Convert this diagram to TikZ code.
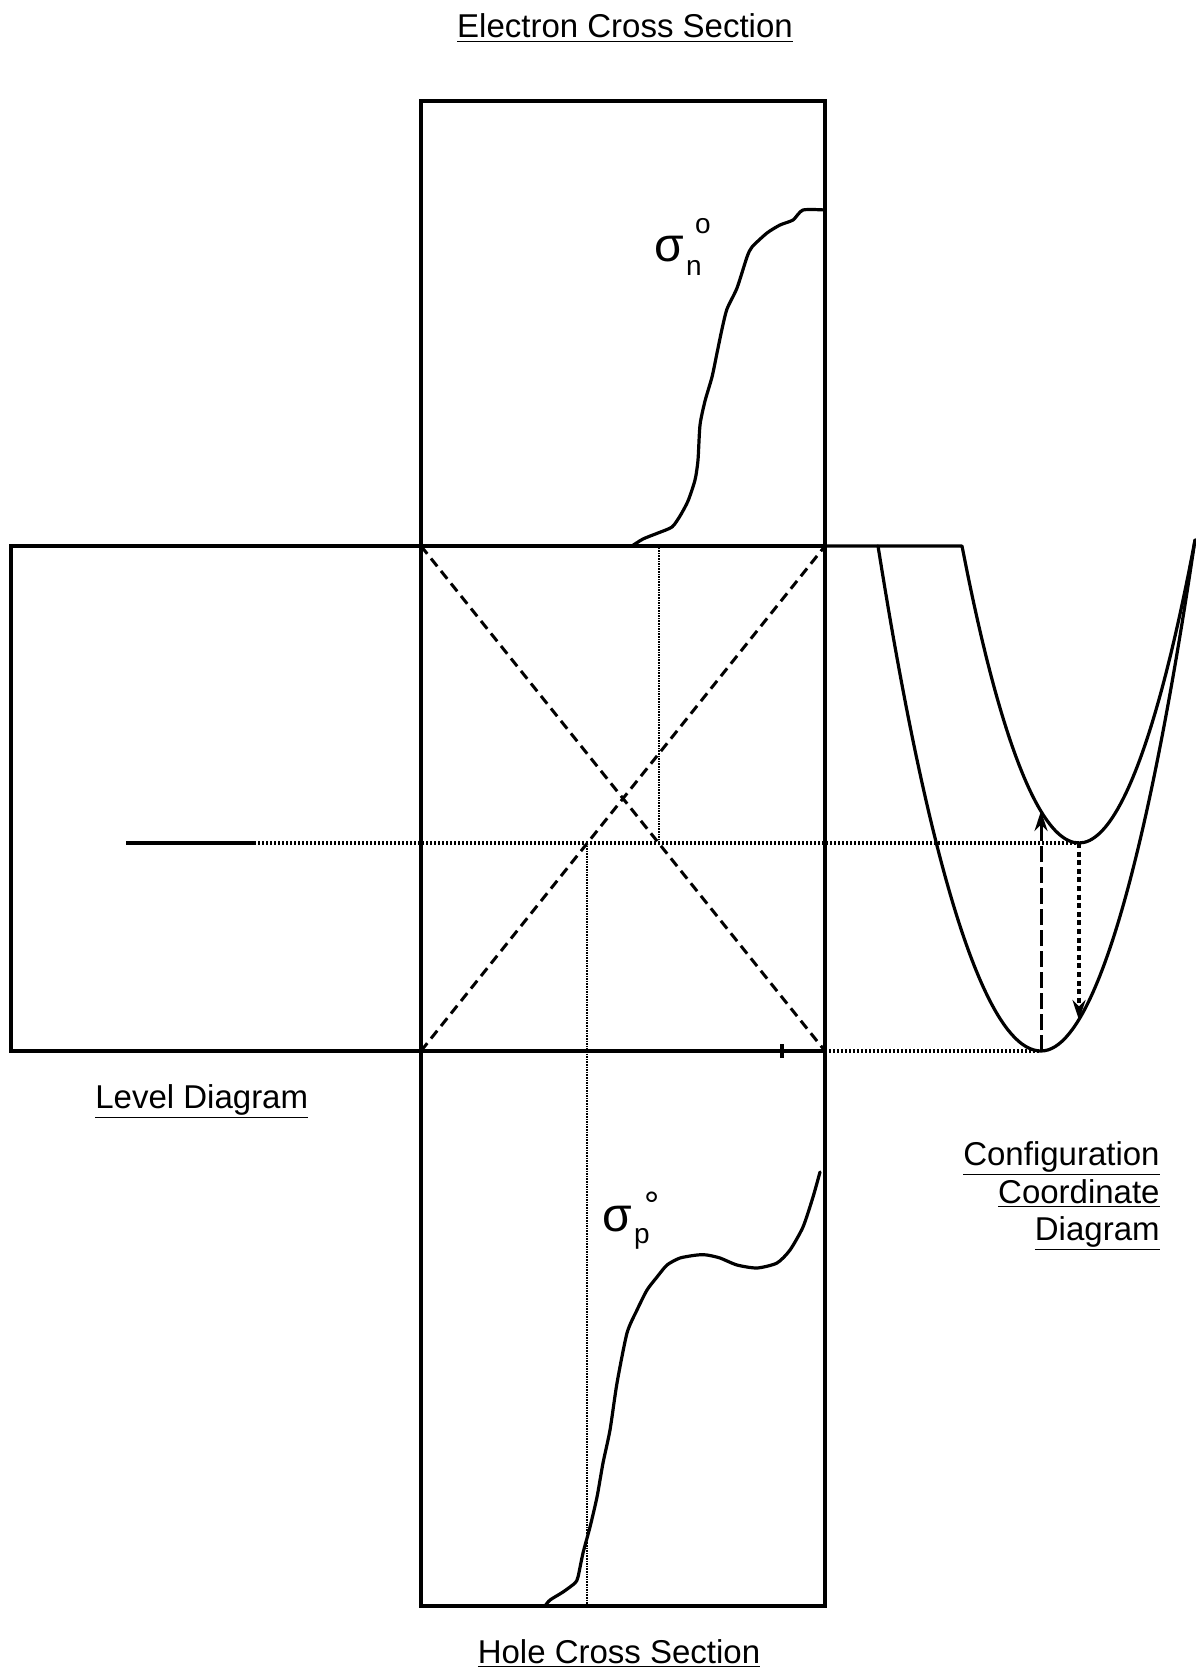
\documentclass[tikz,border=0pt]{standalone}
\usepackage{fontspec}
\setmainfont{Liberation Sans}
\usetikzlibrary{arrows.meta,positioning,calc}
\newcommand{\sigsz}{\fontsize{24}{24}\selectfont}
\newcommand{\scrsz}{\fontsize{14}{14}\selectfont}
\tikzset{
  frame/.style={line width=1.6pt},
  trace/.style={line width=1.6pt,line join=round,line cap=round},
  diag/.style={line width=1.5pt,dash pattern=on 5pt off 3pt},
  levelline/.style={line width=1.6pt,dash pattern=on 1pt off 1pt},
  guide/.style={line width=1pt,dash pattern=on 0.8pt off 0.5pt},
  absorb/.style={-{Stealth[length=10pt,width=6.5pt]},line width=1.5pt,dash pattern=on 8pt off 2.5pt},
  emit/.style={-{Stealth[length=10pt,width=6.5pt]},line width=2pt,dash pattern=on 2.5pt off 1.8pt},
  caption/.style={font=\fontsize{16.5}{20}\selectfont,inner sep=0pt},
  xslabel/.style={inner sep=0pt,anchor=base west},
}

\begin{document}
\begin{tikzpicture}[x=0.5pt,y=-0.5pt]
  \useasboundingbox (0,0) rectangle (1195,1674);
  % corners of the middle square
  \coordinate (nw) at (421,546);
  \coordinate (ne) at (825,546);
  \coordinate (sw) at (421,1051);
  \coordinate (se) at (825,1051);
  \coordinate (bot) at (421,1606);
  % level and the two wells
  \coordinate (lv0) at (126,843);
  \coordinate (lv1) at (254,843);
  \coordinate (uv) at (1079,843);
  \coordinate (lv) at (1041,1051);
  \coordinate (ut) at (962,546);
  \coordinate (lt) at (878,546);
  \coordinate (cc) at (1195,540);
  \coordinate (ab) at (1041,811);
  \coordinate (em) at (1079,1020);

  \draw[frame] (421,101) rectangle (ne);
  \draw[frame] (11,546) rectangle (sw);
  \draw[frame] (nw) rectangle (se);
  \draw[frame] (sw) rectangle (825,1606);
  \draw[frame] (782,1044) -- (782,1058);

  \draw[diag] (nw) -- (se);
  \draw[diag] (sw) -- (ne);

  \draw[frame] (lv0) -- (lv1);
  \draw[levelline] (lv1) -- (uv);
  \draw[levelline] (se) -- (lv);

  \coordinate (xn) at (intersection of nw--se and lv1--uv);
  \coordinate (xp) at (intersection of sw--ne and lv1--uv);
  \draw[guide] (xn) -- (xn |- ne);
  \draw[guide] (xp) -- (xp |- bot);

  % configuration coordinate wells
  \draw[trace] (ne) -- (ut) parabola bend (uv) (cc);
  \draw[trace] (lt) parabola bend (lv) (cc);
  \draw[absorb] (lv) -- (ab);
  \draw[emit] (uv) -- (em);

  % measured cross sections
  \draw[trace] plot[smooth,tension=0.4] coordinates {
    (632,546) (643,539) (658,533) (672,527) (680,516) (688,501) (695,480)
    (698,460) (700,425) (705,401) (712,377) (717,353) (722,329) (727,309)
    (737,288) (747,257) (752,247) (767,233) (780,225) (793,220) (803,210) (825,210)};
  \draw[trace] plot[smooth,tension=0.4] coordinates {
    (545,1606) (550,1600) (563,1592) (575,1583) (578,1577) (583,1553) (590,1527)
    (597,1497) (603,1463) (610,1430) (617,1383) (627,1333) (637,1310) (647,1290)
    (657,1277) (667,1265) (680,1258) (697,1255) (707,1255) (720,1258) (737,1265)
    (757,1268) (777,1263) (790,1250) (803,1227) (813,1197) (820,1172)};

  \node[xslabel] (sn) at (654,262)
    {\sigsz σ\hspace{1pt}\rlap{\raisebox{-7pt}{\scrsz n}}\hspace{4.5pt}\raisebox{14pt}{\scrsz o}};
  \node[xslabel] (sp) at (602,1231)
    {\sigsz σ\hspace{1pt}\rlap{\raisebox{-6pt}{\scrsz p}}\hspace{5pt}\raisebox{6.5pt}{\fontsize{19}{19}\selectfont °}};

  \node[caption,anchor=base] (ecs) at (625,38) {\underline{Electron Cross Section}};
  \node[caption,anchor=base west] (ld) at (95,1108) {\underline{Level Diagram}};
  \node[caption,anchor=base east] (cd1) at (1160,1165) {\underline{Configuration}};
  \node[caption,anchor=base east] (cd2) at (1160,1203) {\underline{Coordinate}};
  \node[caption,anchor=base east] (cd3) at (1160,1240) {\underline{Diagram}};
  \node[caption,anchor=base] (hcs) at (619,1663) {\underline{Hole Cross Section}};
\end{tikzpicture}
\end{document}
